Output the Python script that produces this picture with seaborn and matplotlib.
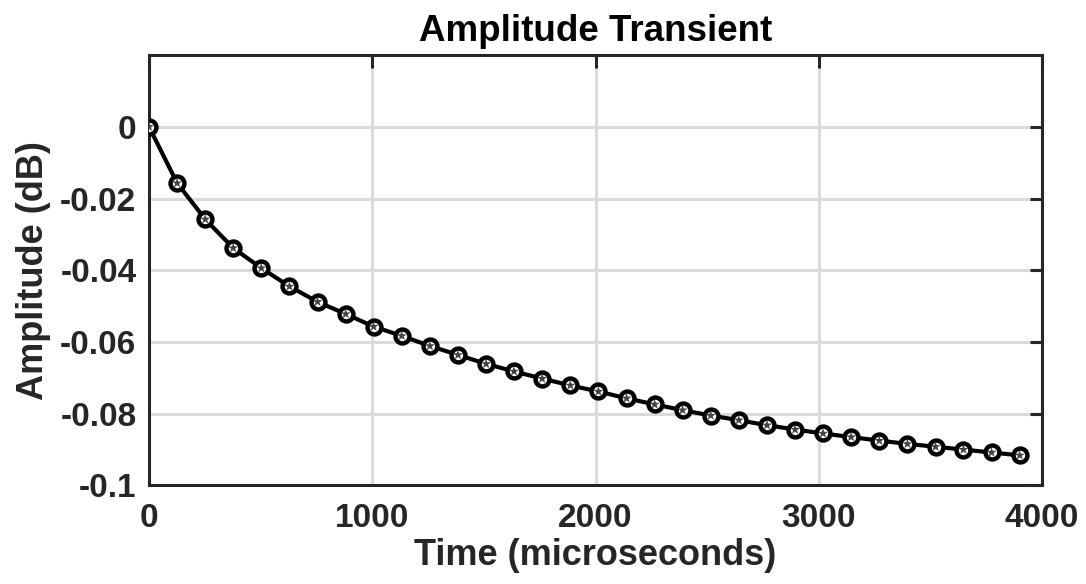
import matplotlib
matplotlib.use("Agg")
import matplotlib.pyplot as plt
import seaborn as sns
import pandas as pd

# Sample times (microseconds) and measured amplitude deviation (dB)
time_us = [0, 126, 252, 377, 503, 629, 755, 881, 1006, 1132, 1258, 1384,
           1510, 1635, 1761, 1887, 2013, 2139, 2265, 2390, 2516, 2642,
           2768, 2894, 3019, 3145, 3271, 3397, 3523, 3648, 3774, 3900]
amplitude_db = [0.0, -0.0157, -0.0258, -0.0338, -0.0394, -0.0445, -0.0488,
                -0.0522, -0.0557, -0.0583, -0.0611, -0.0636, -0.0661,
                -0.0682, -0.0702, -0.0721, -0.0738, -0.0757, -0.0774,
                -0.0790, -0.0805, -0.0818, -0.0832, -0.0844, -0.0855,
                -0.0865, -0.0875, -0.0884, -0.0892, -0.0900, -0.0908,
                -0.0916]

x_ticks = [0, 1000, 2000, 3000, 4000]
y_ticks = [0, -0.02, -0.04, -0.06, -0.08, -0.1]
y_tick_labels = ["0", "-0.02", "-0.04", "-0.06", "-0.08", "-0.1"]

df = pd.DataFrame({"time": time_us, "amp": amplitude_db})

sns.set_theme(style="white")
plt.rcParams["font.family"] = ["Liberation Sans", "DejaVu Sans"]
plt.rcParams["font.weight"] = "bold"

ink = "#262626"

fig = plt.figure(figsize=(10.86, 5.84), dpi=100)
ax = fig.add_axes([0.1372, 0.1687, 0.8223, 0.7371])

ax.grid(True, color="#dadada", linewidth=2.2, zorder=0)
ax.set_axisbelow(True)

sns.lineplot(data=df, x="time", y="amp", ax=ax, color="black",
             linewidth=3.0, marker="o", markersize=10,
             markerfacecolor="white", markeredgecolor="black",
             markeredgewidth=3.2, zorder=3)
# asterisk overlay gives the markers their star-in-circle look
sns.scatterplot(data=df, x="time", y="amp", ax=ax, marker="*", s=60,
                color="#444444", edgecolor="none", zorder=4, legend=False)

ax.set_xlim(0, 4000)
ax.set_ylim(-0.1, 0.02)
ax.set_xticks(x_ticks)
ax.set_xticklabels([str(t) for t in x_ticks])
ax.set_yticks(y_ticks)
ax.set_yticklabels(y_tick_labels)

ax.tick_params(axis="both", direction="in", length=9, width=2.2,
               colors=ink, labelsize=24, top=True, right=True)
ax.tick_params(axis="x", pad=12.5)
ax.tick_params(axis="y", pad=9)
for lab in ax.get_xticklabels() + ax.get_yticklabels():
    lab.set_fontweight("bold")

for side in ["left", "right", "top", "bottom"]:
    ax.spines[side].set_visible(True)
    ax.spines[side].set_color(ink)
    ax.spines[side].set_linewidth(2.2)

ax.set_xlabel("Time (microseconds)", fontsize=26, fontweight="bold",
              color=ink, labelpad=3)
ax.set_ylabel("Amplitude (dB)", fontsize=26, fontweight="bold",
              color=ink, labelpad=7)
ax.set_title("Amplitude Transient", fontsize=26.5, fontweight="bold",
             color="black", pad=10)

fig.savefig("out.png", dpi=100, facecolor="white")
